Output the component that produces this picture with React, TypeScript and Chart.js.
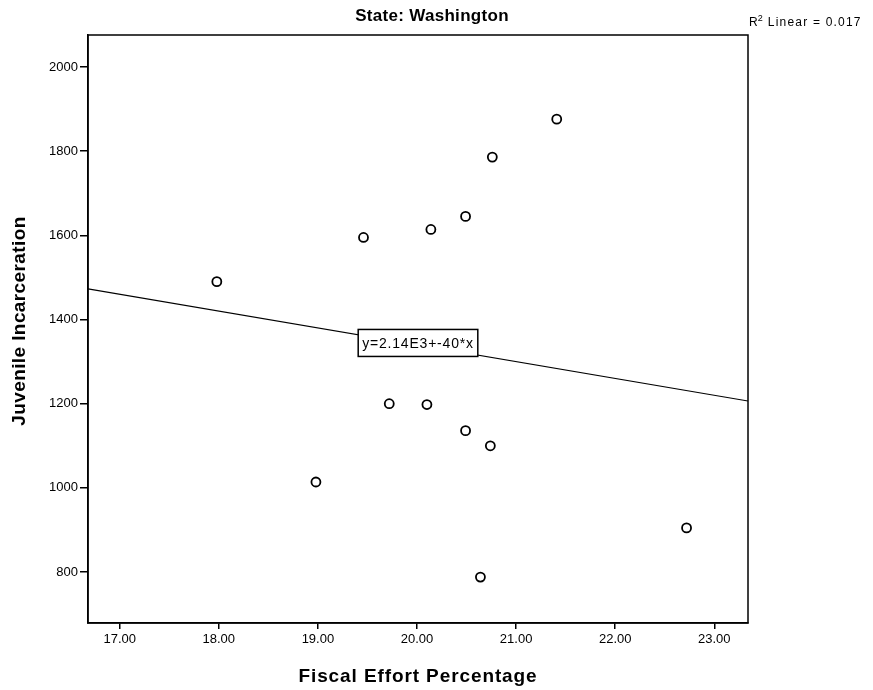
import React, { useEffect, useRef } from "react";
import { Chart, registerables } from "chart.js";
Chart.register(...registerables);

const fiscalEffort = [17.98, 19.46, 20.14, 20.49, 20.76, 21.41, 19.72, 20.1, 20.49, 20.74, 18.98, 22.72, 20.64];
const juvenileIncarceration = [1490, 1595, 1614, 1645, 1786, 1876, 1200, 1198, 1136, 1100, 1014, 905, 788];
const xTicks = [17, 18, 19, 20, 21, 22, 23];
const yTicks = [800, 1000, 1200, 1400, 1600, 1800, 2000];
const fitIntercept = 2140;
const fitSlope = -40;
const xRange = [16.68, 23.34];
const yRange = [679, 2076];
const titleText = "State: Washington";
const xTitle = "Fiscal Effort Percentage";
const yTitle = "Juvenile Incarceration";
const equationText = "y=2.14E3+-40*x";
const rSquaredValue = "0.017";

const FONT = "'Liberation Sans', Arial, sans-serif";

const overlay = {
  id: "overlay",
  afterDraw(chart: any) {
    const { ctx, chartArea, scales } = chart;
    ctx.save();
    // frame
    ctx.strokeStyle = "#000";
    ctx.lineWidth = 1.5;
    ctx.strokeRect(chartArea.left, chartArea.top, chartArea.right - chartArea.left, chartArea.bottom - chartArea.top);
    // title
    ctx.fillStyle = "#000";
    ctx.font = `bold 17px ${FONT}`;
    ctx.textAlign = "center";
    ctx.textBaseline = "middle";
    (ctx as any).letterSpacing = "0.3px";
    ctx.fillText(titleText, 432, 16);
    // x title
    ctx.font = `bold 19px ${FONT}`;
    (ctx as any).letterSpacing = "0.9px";
    ctx.fillText(xTitle, 418, 677);
    // y title
    ctx.save();
    ctx.translate(20, 321);
    ctx.rotate(-Math.PI / 2);
    (ctx as any).letterSpacing = "0.4px";
    ctx.fillText(yTitle, 0, 0);
    ctx.restore();
    // R^2 label
    ctx.textAlign = "left";
    (ctx as any).letterSpacing = "1.2px";
    ctx.font = `12px ${FONT}`;
    const rx = chartArea.right + 1;
    const ry = chartArea.top - 12;
    ctx.fillText("R", rx, ry);
    const rw = ctx.measureText("R").width;
    ctx.font = `9px ${FONT}`;
    ctx.fillText("2", rx + rw - 1, ry - 4);
    ctx.font = `12px ${FONT}`;
    ctx.fillText("Linear = " + rSquaredValue, rx + rw + 9, ry);
    // equation box
    const ex = 20.01;
    const ey = fitIntercept + fitSlope * ex;
    const px = scales.x.getPixelForValue(ex);
    const py = scales.y.getPixelForValue(ey) - 2;
    ctx.font = `14px ${FONT}`;
    (ctx as any).letterSpacing = "0.8px";
    const tw = ctx.measureText(equationText).width;
    const bw = tw + 8;
    const bh = 27;
    ctx.fillStyle = "#fff";
    ctx.fillRect(px - bw / 2, py - bh / 2, bw, bh);
    ctx.strokeStyle = "#000";
    ctx.lineWidth = 1.5;
    ctx.strokeRect(px - bw / 2, py - bh / 2, bw, bh);
    ctx.fillStyle = "#000";
    ctx.textAlign = "center";
    ctx.fillText(equationText, px, py + 1);
    ctx.restore();
  },
};

export default function App() {
  const ref = useRef<HTMLCanvasElement>(null);
  useEffect(() => {
    if (!ref.current) return;
    const points = fiscalEffort.map((x, i) => ({ x, y: juvenileIncarceration[i] }));
    const fitLine = xRange.map((x) => ({ x, y: fitIntercept + fitSlope * x }));
    const chart = new Chart(ref.current, {
      type: "scatter",
      data: {
        datasets: [
          {
            label: "fit",
            data: fitLine,
            showLine: true,
            borderColor: "#000",
            borderWidth: 1.2,
            pointRadius: 0,
            order: 2,
          },
          {
            label: "obs",
            data: points,
            pointRadius: 4.5,
            pointBorderWidth: 1.8,
            pointBorderColor: "#000",
            pointBackgroundColor: "rgba(255,255,255,0)",
            order: 1,
          },
        ],
      },
      options: {
        responsive: false,
        animation: false,
        layout: { padding: { left: 0, right: 125, top: 35, bottom: 0 } },
        plugins: { legend: { display: false }, tooltip: { enabled: false }, title: { display: false } },
        scales: {
          x: {
            type: "linear",
            min: xRange[0],
            max: xRange[1],
            afterBuildTicks: (s: any) => { s.ticks = xTicks.map((v) => ({ value: v })); },
            afterFit: (s: any) => { s.height = 67; },
            ticks: {
              color: "#000",
              font: { family: FONT, size: 13 },
              padding: 3,
              maxRotation: 0,
              callback: (v: any) => Number(v).toFixed(2),
            },
            grid: { display: true, drawOnChartArea: false, tickLength: 6, color: "#000", lineWidth: 1.5 },
            border: { display: true, color: "#000", width: 1.5 },
          },
          y: {
            type: "linear",
            min: yRange[0],
            max: yRange[1],
            afterBuildTicks: (s: any) => { s.ticks = yTicks.map((v) => ({ value: v })); },
            afterFit: (s: any) => { s.width = 88; },
            ticks: {
              color: "#000",
              font: { family: FONT, size: 13 },
              padding: 2,
              callback: (v: any) => String(v),
            },
            grid: { display: true, drawOnChartArea: false, tickLength: 8, color: "#000", lineWidth: 1.5 },
            border: { display: true, color: "#000", width: 1.5 },
          },
        },
      },
      plugins: [overlay],
    });
    return () => chart.destroy();
  }, []);
  return (
    <div style={{ position: "fixed", left: 0, top: 0, width: 873, height: 690, background: "#fff" }}>
      <canvas ref={ref} width={873} height={690} style={{ display: "block" }} />
    </div>
  );
}
